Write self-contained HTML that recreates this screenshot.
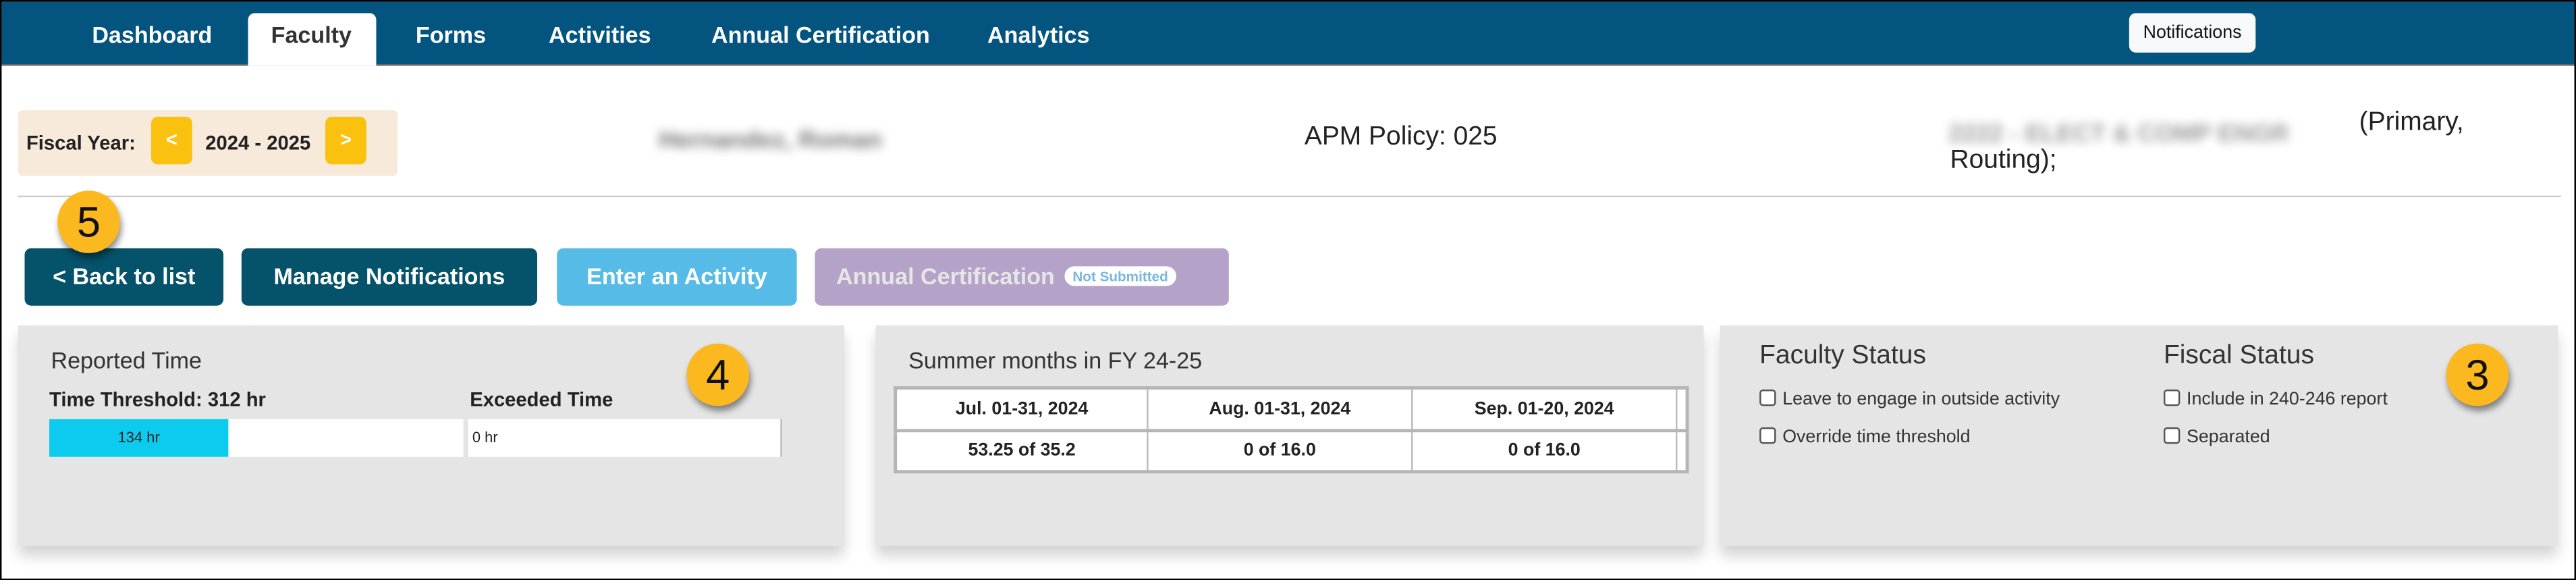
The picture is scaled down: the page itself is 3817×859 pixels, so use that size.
<!DOCTYPE html>
<html><head><meta charset="utf-8"><style>
html,body{margin:0;padding:0;background:#fff;width:3817px;height:859px;overflow:hidden}
#s{position:absolute;left:0;top:0;width:1568px;height:353px;transform-origin:0 0;transform:scale(2.4343);font-family:"Liberation Sans",sans-serif;background:#fff;border:1px solid #000;box-sizing:border-box;overflow:hidden}
.a{position:absolute}
.nav{left:0;top:0;width:1568px;height:38px;background:#03557f;border-bottom:1px solid #666}
.tab{position:absolute;top:12px;color:#fff;font-weight:bold;font-size:14px}
.circ{position:absolute;width:38px;height:38px;border-radius:50%;background:#fbb91f;box-shadow:1px 3px 4px rgba(0,0,0,.45);text-align:center;line-height:38px;font-size:26px;color:#111}
.btn{position:absolute;top:150px;height:35px;border-radius:4px;color:#fff;font-weight:bold;font-size:14px;line-height:35px;text-align:center}
.panel{position:absolute;top:197px;height:134px;background:#e5e5e5;box-shadow:0 6px 8px rgba(0,0,0,.18)}
.cb{display:inline-block;width:8px;height:8px;border:1px solid #555;border-radius:2px;background:#fff;vertical-align:-1px;margin-right:4px}
td{border:1px solid #bbb;background:#fff;text-align:center;font-weight:bold;font-size:11px;color:#222;padding:0}
</style></head><body><div id="s">
<div class="a nav"></div>
<div class="a" style="left:150px;top:7px;width:78px;height:32px;background:#fff;border-radius:4px 4px 0 0"></div>
<div class="tab" style="left:55px">Dashboard</div>
<div class="tab" style="left:164px;color:#333">Faculty</div>
<div class="tab" style="left:252px">Forms</div>
<div class="tab" style="left:333px">Activities</div>
<div class="tab" style="left:432px">Annual Certification</div>
<div class="tab" style="left:600px">Analytics</div>
<div class="a" style="left:1295px;top:7px;width:77px;height:24px;background:#f8f9fa;border-radius:4px;font-size:11px;line-height:24px;text-align:center;color:#111">Notifications</div>

<div class="a" style="left:10px;top:66px;width:231px;height:40px;background:#f7eadb;border-radius:3px"></div>
<div class="a" style="left:15px;top:79px;font-size:12px;font-weight:bold;color:#222">Fiscal Year:</div>
<div class="a" style="left:91px;top:70px;width:25px;height:29px;background:#fbc10f;border-radius:4px;color:#fff;font-weight:bold;font-size:12px;line-height:29px;text-align:center">&lt;</div>
<div class="a" style="left:124px;top:79px;font-size:12px;font-weight:bold;color:#222">2024 - 2025</div>
<div class="a" style="left:197px;top:70px;width:25px;height:29px;background:#fbc10f;border-radius:4px;color:#fff;font-weight:bold;font-size:12px;line-height:29px;text-align:center">&gt;</div>
<div class="a" style="left:400px;top:76px;font-size:15px;font-weight:bold;color:#777;filter:blur(3px)">Hernandez, Roman</div>
<div class="a" style="left:793px;top:74px;font-size:16px;color:#222">APM Policy: 025</div>
<div class="a" style="left:1185px;top:72px;font-size:15px;font-weight:bold;color:#999;filter:blur(3px)">2222 - ELECT &amp; COMP ENGR</div>
<div class="a" style="left:1435px;top:65px;font-size:16px;color:#222">(Primary,</div>
<div class="a" style="left:1186px;top:88px;font-size:16px;color:#222">Routing);</div>
<div class="a" style="left:10px;top:118px;width:1548px;height:1px;background:#ccc"></div>

<div class="btn" style="left:14px;width:121px;background:#05526b">&lt; Back to list</div>
<div class="btn" style="left:146px;width:180px;background:#05526b">Manage Notifications</div>
<div class="btn" style="left:338px;width:146px;background:#56bbe6">Enter an Activity</div>
<div class="btn" style="left:495px;width:252px;background:#b5a2c8;color:#e6e6e6;text-align:left;padding-left:13px;box-sizing:border-box">Annual Certification <span style="display:inline-block;background:#fff;color:#7ab6dc;font-size:8.5px;font-weight:bold;line-height:12px;padding:0 5px;border-radius:6px;vertical-align:2px;margin-left:2px">Not Submitted</span></div>
<div class="circ" style="left:34px;top:115px">5</div>

<div class="panel" style="left:10px;width:503px"></div>
<div class="panel" style="left:532px;width:504px"></div>
<div class="panel" style="left:1046px;width:510px"></div>

<div class="a" style="left:30px;top:210px;font-size:14px;color:#333">Reported Time</div>
<div class="a" style="left:29px;top:235px;font-size:12px;font-weight:bold;color:#222">Time Threshold: 312 hr</div>
<div class="a" style="left:285px;top:235px;font-size:12px;font-weight:bold;color:#222">Exceeded Time</div>
<div class="a" style="left:29px;top:254px;width:252px;height:23px;background:#fff"></div>
<div class="a" style="left:29px;top:254px;width:109px;height:23px;background:#0ccbef;font-size:9px;line-height:23px;text-align:center;color:#222">134 hr</div>
<div class="a" style="left:284px;top:254px;width:190px;height:23px;background:#fff;border-right:1px solid #bbb;font-size:9px;line-height:23px;color:#222">&nbsp;0 hr</div>
<div class="circ" style="left:417px;top:208px">4</div>

<div class="a" style="left:552px;top:210px;font-size:14px;color:#333">Summer months in FY 24-25</div>
<table class="a" style="left:543px;top:234px;width:484px;height:53px;border-collapse:collapse;border:2px solid #b5b5b5">
<tr style="border-bottom:2px solid #b5b5b5"><td style="width:152px">Jul. 01-31, 2024</td><td style="width:160px">Aug. 01-31, 2024</td><td style="width:160px">Sep. 01-20, 2024</td><td></td></tr>
<tr><td>53.25 of 35.2</td><td>0 of 16.0</td><td>0 of 16.0</td><td></td></tr></table>

<div class="a" style="left:1070px;top:207px;font-size:16px;color:#333">Faculty Status</div>
<div class="a" style="left:1316px;top:207px;font-size:16px;color:#333">Fiscal Status</div>
<div class="a" style="left:1070px;top:236px;font-size:11px;color:#333"><span class="cb"></span>Leave to engage in outside activity</div>
<div class="a" style="left:1070px;top:259px;font-size:11px;color:#333"><span class="cb"></span>Override time threshold</div>
<div class="a" style="left:1316px;top:236px;font-size:11px;color:#333"><span class="cb"></span>Include in 240-246 report</div>
<div class="a" style="left:1316px;top:259px;font-size:11px;color:#333"><span class="cb"></span>Separated</div>
<div class="circ" style="left:1488px;top:208px">3</div>
</div></body></html>
